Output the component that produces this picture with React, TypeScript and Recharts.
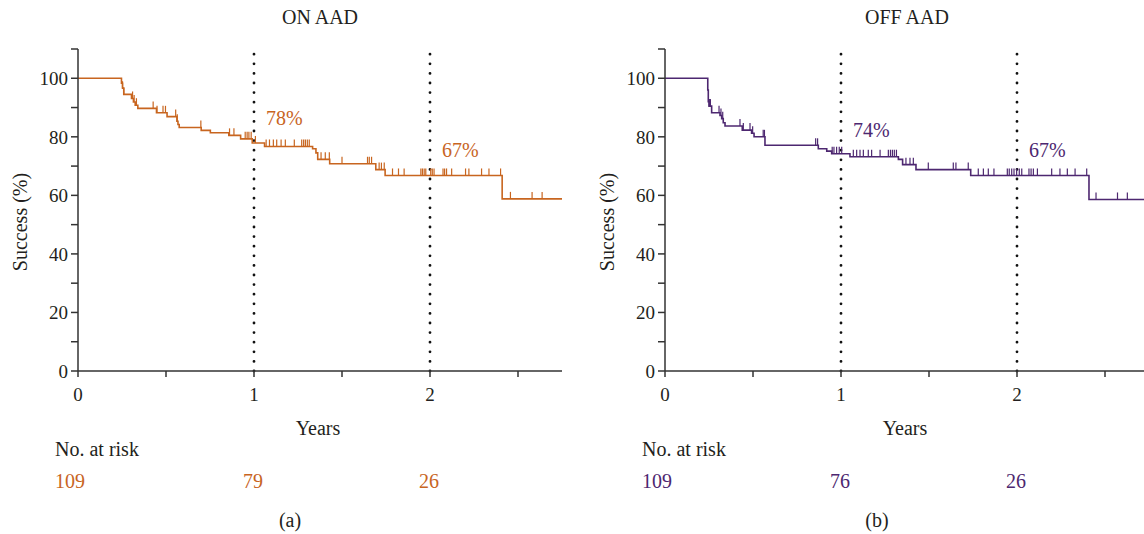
import { ComposedChart, Line, Scatter, XAxis, YAxis, ReferenceLine, ReferenceDot } from 'recharts';

// ON AAD — Kaplan-Meier steps (years, success %)
const onStepTimes = [0, 0.247, 0.253, 0.26, 0.304, 0.315, 0.325, 0.34, 0.446, 0.506, 0.562, 0.568, 0.575, 0.7, 0.752, 0.857, 0.924, 0.99, 1.06, 1.333, 1.352, 1.362, 1.43, 1.692, 1.745, 2.41, 2.75];
const onStepSurv = [100, 98.3, 96.6, 94.5, 93.1, 91.9, 90.8, 89.7, 88.2, 86.9, 85.3, 84.2, 83.2, 82.2, 81.4, 80.5, 79.3, 77.9, 76.7, 75.9, 74.5, 72.3, 70.8, 68.8, 66.8, 58.8, 58.8];
const onCensorTimes = [0.253, 0.26, 0.31, 0.319, 0.332, 0.427, 0.449, 0.483, 0.497, 0.555, 0.564, 0.698, 0.861, 0.886, 0.95, 0.961, 0.971, 0.984, 1.008, 1.069, 1.088, 1.11, 1.129, 1.154, 1.178, 1.229, 1.271, 1.282, 1.292, 1.303, 1.314, 1.381, 1.405, 1.428, 1.5, 1.645, 1.655, 1.668, 1.711, 1.724, 1.74, 1.787, 1.821, 1.853, 1.948, 1.957, 1.967, 1.976, 2.004, 2.013, 2.023, 2.074, 2.083, 2.094, 2.123, 2.202, 2.221, 2.293, 2.335, 2.401, 2.457, 2.58, 2.637];

// OFF AAD
const offStepTimes = [0, 0.243, 0.246, 0.25, 0.265, 0.3125, 0.322, 0.331, 0.341, 0.439, 0.492, 0.506, 0.568, 0.871, 0.919, 0.947, 1.051, 1.326, 1.35, 1.426, 1.737, 2.409, 2.75];
const offStepSurv = [100, 96, 92, 90.5, 88.2, 87.3, 86.2, 84.8, 83.7, 82.3, 81.2, 80.0, 77.1, 75.9, 75.1, 74.2, 73.2, 72.3, 70.5, 68.8, 66.8, 58.6, 58.6];
const offCensorTimes = [0.252, 0.258, 0.307, 0.318, 0.328, 0.426, 0.445, 0.483, 0.498, 0.558, 0.565, 0.856, 0.867, 0.95, 0.96, 0.975, 0.99, 1.004, 1.07, 1.089, 1.108, 1.127, 1.155, 1.174, 1.222, 1.269, 1.281, 1.292, 1.303, 1.315, 1.369, 1.392, 1.411, 1.496, 1.638, 1.653, 1.723, 1.78, 1.809, 1.837, 1.869, 1.945, 1.956, 1.97, 1.983, 1.998, 2.013, 2.027, 2.068, 2.08, 2.093, 2.116, 2.197, 2.244, 2.286, 2.33, 2.396, 2.449, 2.571, 2.627];

// number at risk + milestone percentages
const riskYears = [0, 1, 2];
const onAtRisk = [109, 79, 26];
const offAtRisk = [109, 76, 26];
const markYears = [1, 2];
const onMarks = [78, 67];
const offMarks = [74, 67];

const xTicks = [0, 0.5, 1, 1.5, 2, 2.5];
const yTicks = [0, 10, 20, 30, 40, 50, 60, 70, 80, 90, 100, 110];

const ON_COLOR = '#c8651f';
const OFF_COLOR = '#4d2770';
const INK = '#231f20';
const AXIS = '#333';
const FONT = "'Liberation Serif', serif";

function buildSteps(times: number[], surv: number[]) {
  return times.map((t, i) => ({ t, s: surv[i] }));
}

// censored obs sit on the curve at the current step value
function buildCensors(times: number[], steps: { t: number; s: number }[]) {
  return times.map((t) => {
    let s = steps[0].s;
    for (const p of steps) if (p.t <= t) s = p.s;
    return { t, s };
  });
}

function CensorTick(props: any) {
  const { cx, cy, fill } = props;
  if (cx == null || cy == null) return null;
  return <line x1={cx} x2={cx} y1={cy} y2={cy - 7} stroke={fill} strokeWidth={1.2} />;
}

interface PanelProps {
  left: number;
  title: string;
  tag: string;
  color: string;
  stepTimes: number[];
  stepSurv: number[];
  censorTimes: number[];
  atRisk: number[];
  marks: number[];
}

function Panel({ left, title, tag, color, stepTimes, stepSurv, censorTimes, atRisk, marks }: PanelProps) {
  const steps = buildSteps(stepTimes, stepSurv);
  const censors = buildCensors(censorTimes, steps);
  const txt = { position: 'absolute' as const, fontSize: 20, lineHeight: '20px', whiteSpace: 'nowrap' as const };

  return (
    <div style={{ position: 'absolute', left, top: 0, width: 572, height: 534 }}>
      <div style={{ ...txt, left: 78, width: 484, top: 7, textAlign: 'center' }}>{title}</div>
      <div style={{ ...txt, left: 55, top: 439 }}>No. at risk</div>
      <div style={{ ...txt, left: 78, width: 424, top: 510, textAlign: 'center' }}>({tag})</div>
      <ComposedChart width={572} height={534} margin={{ top: 49, right: 10, bottom: 97, left: 0 }}>
        <XAxis
          dataKey="t"
          type="number"
          domain={[0, 2.75]}
          ticks={xTicks}
          allowDataOverflow
          tickFormatter={(v: number) => (Number.isInteger(v) ? String(v) : '')}
          tick={{ fill: INK, fontSize: 19, fontFamily: FONT }}
          tickSize={6}
          tickMargin={11}
          height={66}
          stroke={AXIS}
          strokeWidth={1.5}
          label={{
            content: ({ viewBox }: any) => (
              <text x={viewBox.x + viewBox.width / 2 - 2} y={viewBox.y + 57} textAnchor="middle" dominantBaseline="central" fill={INK} fontSize={20} fontFamily={FONT}>
                Years
              </text>
            ),
          }}
        />
        <YAxis
          type="number"
          domain={[0, 110]}
          ticks={yTicks}
          allowDataOverflow
          width={78}
          tickFormatter={(v: number) => (v % 20 === 0 && v <= 100 ? String(v) : '')}
          tick={{ fill: INK, fontSize: 19, fontFamily: FONT }}
          tickSize={7}
          tickMargin={3}
          stroke={AXIS}
          strokeWidth={1.5}
          label={{
            content: ({ viewBox }: any) => {
              const cx = viewBox.x + 20;
              const cy = viewBox.y + viewBox.height / 2 + 12;
              return (
                <text x={cx} y={cy} transform={`rotate(-90 ${cx} ${cy})`} textAnchor="middle" dominantBaseline="central" fill={INK} fontSize={20} fontFamily={FONT}>
                  Success (%)
                </text>
              );
            },
          }}
        />
        {markYears.map((yr) => (
          <ReferenceLine key={'rl' + yr} x={yr} stroke="#111" strokeWidth={2.8} strokeDasharray="0 9.6" strokeLinecap="round" />
        ))}
        <Line data={steps} dataKey="s" type="stepAfter" stroke={color} strokeWidth={1.6} dot={false} isAnimationActive={false} />
        <Scatter data={censors} dataKey="s" fill={color} shape={<CensorTick />} isAnimationActive={false} />
        {markYears.map((yr, i) => (
          <ReferenceDot
            key={'pct' + yr}
            x={yr}
            y={marks[i] + 8.4}
            r={0}
            fill="none"
            stroke="none"
            ifOverflow="visible"
            label={{ value: `${marks[i]}%`, position: 'right', offset: 12, fill: color, fontSize: 20, fontFamily: FONT }}
          />
        ))}
        {riskYears.map((yr, i) => (
          <ReferenceDot
            key={'risk' + yr}
            x={yr}
            y={-37.5}
            r={0}
            fill="none"
            stroke="none"
            ifOverflow="visible"
            label={{
              content: ({ viewBox }: any) => {
                const first = i === 0;
                return (
                  <text
                    x={viewBox.x + viewBox.width / 2 + (first ? -23 : -1)}
                    y={viewBox.y + viewBox.height / 2}
                    textAnchor={first ? 'start' : 'middle'}
                    dominantBaseline="central"
                    fill={color}
                    fontSize={20}
                    fontFamily={FONT}
                  >
                    {atRisk[i]}
                  </text>
                );
              },
            }}
          />
        ))}
      </ComposedChart>
    </div>
  );
}

export default function App() {
  return (
    <div
      style={{
        position: 'absolute',
        left: 0,
        top: 0,
        width: 1144,
        height: 534,
        overflow: 'hidden',
        background: '#fff',
        fontFamily: FONT,
        color: INK,
      }}
    >
      <Panel left={0} title="ON AAD" tag="a" color={ON_COLOR} stepTimes={onStepTimes} stepSurv={onStepSurv} censorTimes={onCensorTimes} atRisk={onAtRisk} marks={onMarks} />
      <Panel left={587} title="OFF AAD" tag="b" color={OFF_COLOR} stepTimes={offStepTimes} stepSurv={offStepSurv} censorTimes={offCensorTimes} atRisk={offAtRisk} marks={offMarks} />
    </div>
  );
}
